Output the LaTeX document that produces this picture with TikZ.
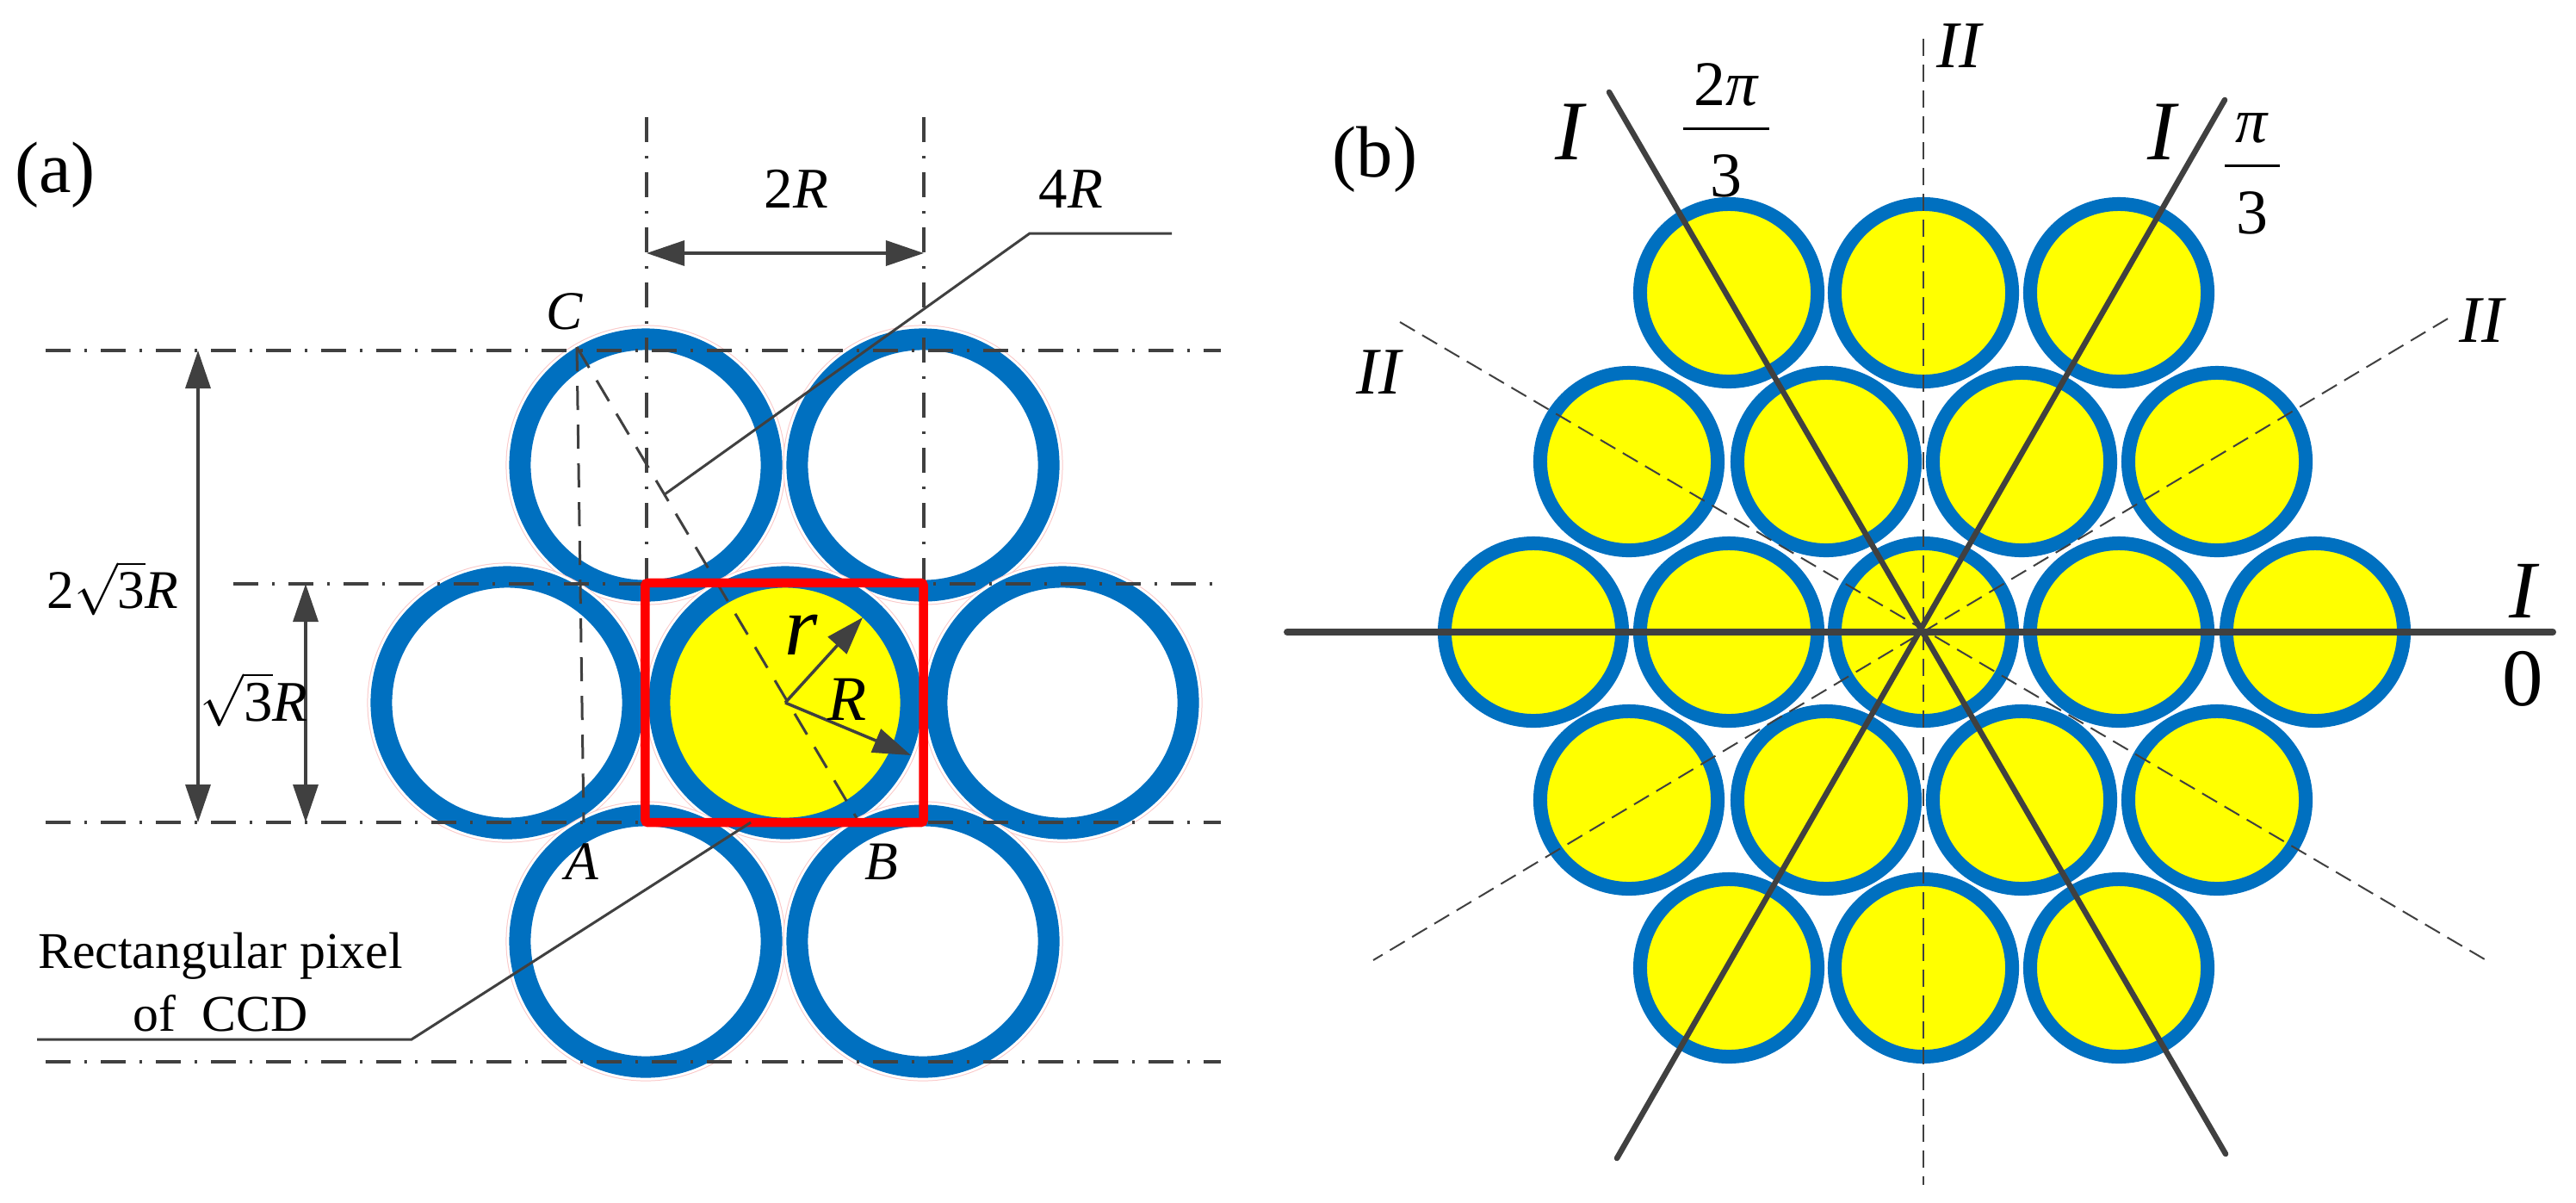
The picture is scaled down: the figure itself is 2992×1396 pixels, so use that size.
\documentclass[tikz,border=0pt]{standalone}
\usepackage{fontspec}
\setmainfont{Liberation Serif}
\usetikzlibrary{arrows.meta}
\definecolor{ringblue}{RGB}{0,112,192}
\definecolor{ringyellow}{RGB}{255,255,0}
\definecolor{boxred}{RGB}{255,0,0}
\definecolor{linegray}{RGB}{64,64,64}
\definecolor{ringpink}{RGB}{250,200,200}
\newcommand{\fsize}[1]{\fontsize{#1}{#1}\selectfont}
\tikzset{
	ringa/.style={circle,inner sep=0pt,minimum size=2.92cm,draw=ringblue,line width=0.25cm,fill=white,
		preaction={draw=ringpink,line width=0.33cm},preaction={draw=white,line width=0.31cm}},
	ringb/.style={circle,inner sep=0pt,minimum size=2.06cm,draw=ringblue,line width=0.16cm,fill=ringyellow},
	dimtip/.tip={Triangle[length=0.44cm,width=0.29cm]},
	centerline/.style={linegray,line width=0.04cm,dash pattern=on 0.29cm off 0.16cm on 0.03cm off 0.16cm},
	thinline/.style={linegray,line width=0.03cm},
	dashline/.style={linegray,line width=0.03cm,dash pattern=on 0.28cm off 0.17cm},
	axisline/.style={linegray,line width=0.065cm,line cap=round},
	tickline/.style={linegray,line width=0.02cm,dash pattern=on 0.2cm off 0.1cm},
	lab/.style={inner sep=0pt,font=\fsize{19}},
}
\begin{document}
\begin{tikzpicture}[x=0.01cm,y=-0.01cm]
	\useasboundingbox (0,0) rectangle (2992,1396);
	\begin{scope}[every node/.style={ringa}]
		\node (T1) at (750,540) {};
		\node (T2) at (1072,540) {};
		\node (M1) at (589,816) {};
		\node[fill=ringyellow] (M2) at (912,816) {};
		\node (M3) at (1234,816) {};
		\node (D1) at (750,1093) {};
		\node (D2) at (1072,1093) {};
	\end{scope}
	\begin{scope}[every node/.style={ringb}]
		\node (a1) at (2008,340) {};
		\node (a2) at (2234,340) {};
		\node (a3) at (2461,340) {};
		\node (b1) at (1892,536) {};
		\node (b2) at (2121,536) {};
		\node (b3) at (2348,536) {};
		\node (b4) at (2575,536) {};
		\node (c1) at (1781,734) {};
		\node (c2) at (2008,734) {};
		\node (c3) at (2234,734) {};
		\node (c4) at (2461,734) {};
		\node (c5) at (2689,734) {};
		\node (d1) at (1892,929) {};
		\node (d2) at (2121,929) {};
		\node (d3) at (2348,929) {};
		\node (d4) at (2575,929) {};
		\node (e1) at (2008,1124) {};
		\node (e2) at (2234,1124) {};
		\node (e3) at (2461,1124) {};
	\end{scope}
	% panel a
	\coordinate (V1a) at (751,136);
	\coordinate (V1b) at (751,677);
	\coordinate (V2a) at (1073,136);
	\coordinate (V2b) at (1073,677);
	\coordinate (H1a) at (53,407);
	\coordinate (H1b) at (1418,407);
	\coordinate (H2a) at (271,678);
	\coordinate (H2b) at (1418,678);
	\coordinate (H3a) at (53,955);
	\coordinate (H3b) at (1418,955);
	\coordinate (H4a) at (53,1233);
	\coordinate (H4b) at (1418,1233);
	\path [centerline] (V1a) edge (V1b);
	\path [centerline] (V2a) edge (V2b);
	\path [centerline] (H1a) edge (H1b);
	\path [centerline] (H2a) edge (H2b);
	\path [centerline] (H3a) edge (H3b);
	\path [centerline] (H4a) edge (H4b);
	\coordinate (PC) at (670,403);
	\coordinate (PA) at (678,955);
	\coordinate (PB) at (995,950);
	\path [dashline] (PC) edge (PA);
	\path [dashline] (PC) edge (PB);
	\node [draw=boxred,line width=0.105cm,rounded corners=0.03cm,inner sep=0pt,minimum width=3.23cm,minimum height=2.78cm] (pixel) at (911,816) {};
	\coordinate (Wa) at (751,294);
	\coordinate (Wb) at (1073,294);
	\coordinate (Ba) at (230,407);
	\coordinate (Bb) at (230,955);
	\coordinate (Sa) at (355,678);
	\coordinate (Sb) at (355,955);
	\path [dimtip-dimtip,thinline,line width=0.035cm] (Wa) edge (Wb);
	\path [dimtip-dimtip,thinline,line width=0.035cm] (Ba) edge (Bb);
	\path [dimtip-dimtip,thinline,line width=0.035cm] (Sa) edge (Sb);
	\coordinate (Ctr) at (912,816);
	\coordinate (Ir) at (1002,717);
	\coordinate (Or) at (1058,877);
	\path [-dimtip,thinline,line width=0.035cm] (Ctr) edge (Ir);
	\path [-dimtip,thinline,line width=0.035cm] (Ctr) edge (Or);
	\coordinate (La) at (772,574);
	\coordinate (Lb) at (1196,271);
	\coordinate (Lc) at (1361,271);
	\draw [thinline] (La) -- (Lb) -- (Lc);
	\coordinate (Ka) at (872,955);
	\coordinate (Kb) at (478,1207);
	\coordinate (Kc) at (43,1207);
	\draw [thinline] (Ka) -- (Kb) -- (Kc);
	\node [lab,font=\fsize{24}] (tagA) at (64,203) {(a)};
	\node [lab] (wid) at (925,219) {2\textit{R}};
	\node [lab] (diag) at (1244,219) {4\textit{R}};
	\node [lab,font=\fsize{18}] (lC) at (656,362) {\textit{C}};
	\node [lab,font=\fsize{18}] (lA) at (676,1001) {\textit{A}};
	\node [lab,font=\fsize{18}] (lB) at (1024,1001) {\textit{B}};
	\node [lab,font=\fsize{18}] (big) at (131,683) {2$\sqrt{\mbox{3}}$\textit{R}};
	\node [lab] (small) at (295,812) {$\sqrt{\mbox{3}}$\textit{R}};
	\node [lab,font=\fsize{28}] (lr) at (931,737) {\textit{r}};
	\node [lab,font=\fsize{21}] (lR) at (984,812) {\textit{R}};
	\node [lab,font=\fsize{17}] (rect1) at (256,1110) {Rectangular pixel};
	\node [lab,font=\fsize{17}] (rect2) at (256,1177) {of\ \ CCD};
	% panel b
	\coordinate (Ya) at (2234,45);
	\coordinate (Yb) at (2234,1376);
	\coordinate (Pa) at (1626,374);
	\coordinate (Pb) at (2891,1117);
	\coordinate (Qa) at (2843,370);
	\coordinate (Qb) at (1595,1115);
	\path [tickline] (Ya) edge (Yb);
	\path [tickline] (Pa) edge (Pb);
	\path [tickline] (Qa) edge (Qb);
	\coordinate (Xa) at (1495,734);
	\coordinate (Xb) at (2965,734);
	\coordinate (Ua) at (1869,107);
	\coordinate (Ub) at (2585,1340);
	\coordinate (Ra) at (2584,116);
	\coordinate (Rb) at (1878,1345);
	\path [axisline] (Ua) edge (Ub);
	\path [axisline] (Ra) edge (Rb);
	\path [axisline,line width=0.08cm] (Xa) edge (Xb);
	\node [lab,font=\fsize{24}] (tagB) at (1597,185) {(b)};
	\node [lab,font=\fsize{28}] (one1) at (1825,153) {\textit{I}};
	\node [lab,font=\fsize{28}] (one2) at (2513,153) {\textit{I}};
	\node [lab,font=\fsize{27}] (one3) at (2932,686) {\textit{I}};
	\node [lab,font=\fsize{27}] (zero) at (2930,788) {0};
	\node [lab,font=\fsize{22}] (two1) at (2277,53) {\textit{II}};
	\node [lab,font=\fsize{22}] (two2) at (1603,432) {\textit{II}};
	\node [lab,font=\fsize{22}] (two3) at (2884,372) {\textit{II}};
	\node [lab,font=\fsize{21}] (ang2) at (2005,150) {${\mbox{\rule[-0.3em]{0pt}{1em}\,2\textit{π}\,}\above 1pt\mbox{\rule{0pt}{1em}3}}$};
	\node [lab,font=\fsize{21}] (ang1) at (2616,193) {${\mbox{\rule[-0.3em]{0pt}{1em}\,\textit{π}\,}\above 1pt\mbox{\rule{0pt}{1em}3}}$};
\end{tikzpicture}
\end{document}
